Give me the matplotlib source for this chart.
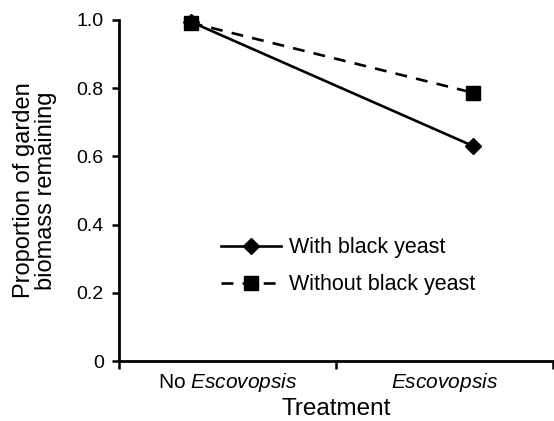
import numpy as np
import matplotlib
matplotlib.use('Agg')
from matplotlib import pyplot as plt

plt.rcParams['font.family'] = ['Liberation Sans', 'DejaVu Sans']
plt.rcParams['mathtext.fontset'] = 'custom'
plt.rcParams['mathtext.rm'] = 'Liberation Sans'
plt.rcParams['mathtext.it'] = 'Liberation Sans:italic'

# data
treat_x = [0.33, 1.63]
with_yeast = [0.995, 0.631]
without_yeast = [0.992, 0.787]
y_ticks = [0, 0.2, 0.4, 0.6, 0.8, 1.0]
y_tick_labels = ['0', '0.2', '0.4', '0.6', '0.8', '1.0']
cat_labels = ['No $\\mathit{Escovopsis}$', '$\\mathit{Escovopsis}$']

fig = plt.figure(figsize=(5.54, 4.21), dpi=100)
ax = fig.add_axes([0.2148, 0.1425, 0.7832, 0.81])

ax.plot(treat_x, with_yeast, color='black', lw=1.9, marker='D', ms=8.5,
        label='With black yeast', clip_on=False, zorder=3)
ax.plot(treat_x, without_yeast, color='black', lw=1.9, ls=(0, (4.5, 3.5)),
        marker='s', ms=10, label='Without black yeast', clip_on=False, zorder=4)

ax.set_xlim(0, 2)
ax.set_ylim(0, 1.0)
ax.set_yticks(y_ticks)
ax.set_yticklabels(y_tick_labels, fontsize=14)
ax.set_xticks([0, 1, 2])
ax.set_xticklabels([])
ax.set_xticks([0.5, 1.5], minor=True)
ax.set_xticklabels(cat_labels, minor=True, fontsize=15)
ax.tick_params(axis='x', which='minor', length=0, pad=7)
ax.tick_params(axis='x', which='major', length=6, width=1.8, direction='out')
ax.tick_params(axis='y', length=5, width=1.8, direction='out', pad=6)

for s in ['top', 'right']:
    ax.spines[s].set_visible(False)
for s in ['left', 'bottom']:
    ax.spines[s].set_linewidth(2)

ax.set_xlabel('Treatment', fontsize=17.5, labelpad=3)
ax.set_ylabel('Proportion of garden\nbiomass remaining', fontsize=17,
              linespacing=1.0)
ax.yaxis.set_label_coords(-0.143, 0.5)

ax.legend(loc='upper left', bbox_to_anchor=(0.19, 0.42), frameon=False,
          fontsize=15.5, handlelength=2.8, handletextpad=0.35, labelspacing=0.75)

fig.savefig('out.png', dpi=100)
